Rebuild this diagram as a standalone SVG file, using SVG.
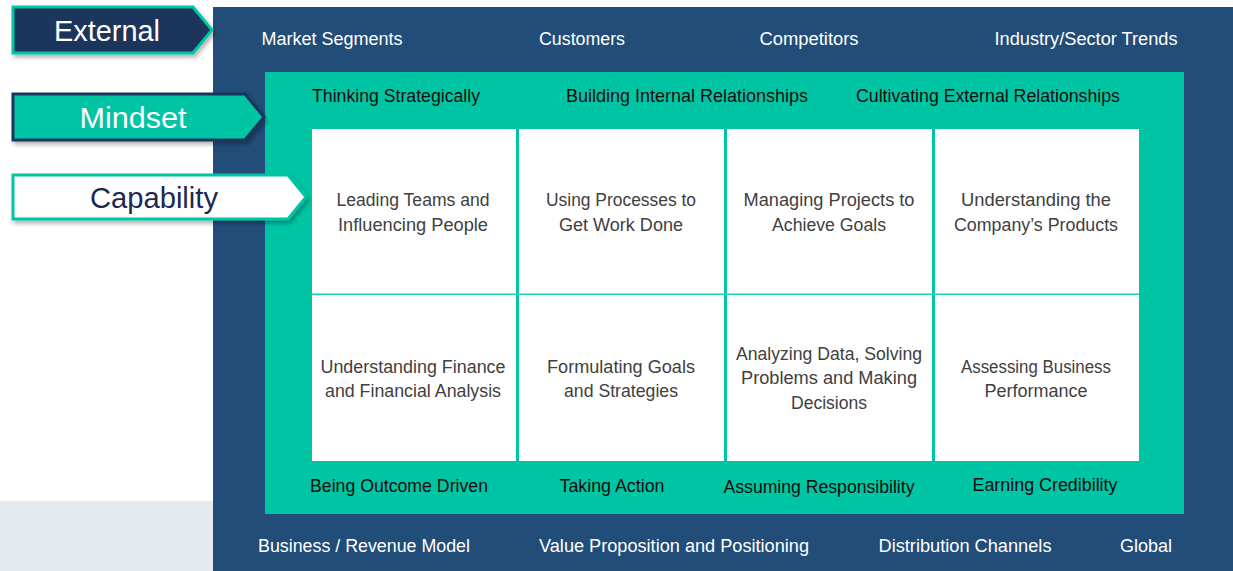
<svg xmlns="http://www.w3.org/2000/svg" width="1233" height="571" viewBox="0 0 1233 571">
<defs>
<filter id="sh" x="-10%" y="-20%" width="130%" height="160%">
<feDropShadow dx="2" dy="3" stdDeviation="2" flood-color="#000" flood-opacity="0.3"/>
</filter>
<style>
text{font-family:"Liberation Sans","Open Sans",sans-serif;text-anchor:middle}
.ext{fill:#ffffff;font-size:18px}
.mind{fill:#0d0d0d;font-size:17.5px}
.cell{fill:#404040;font-size:17.5px}
.lab{font-size:29px}
</style>
</defs>
<rect x="0" y="0" width="1233" height="571" fill="#ffffff"/>
<rect x="0" y="501" width="213" height="70" fill="#e4e8ef"/>
<g id="external-frame">
<rect x="213" y="7" width="1020" height="564" fill="#214d78"/>
<text class="ext" x="332" y="45" textLength="141" lengthAdjust="spacingAndGlyphs">Market Segments</text>
<text class="ext" x="582" y="45" textLength="86" lengthAdjust="spacingAndGlyphs">Customers</text>
<text class="ext" x="809" y="45" textLength="99" lengthAdjust="spacingAndGlyphs">Competitors</text>
<text class="ext" x="1086" y="45" textLength="183" lengthAdjust="spacingAndGlyphs">Industry/Sector Trends</text>
<text class="ext" x="364" y="552" textLength="212" lengthAdjust="spacingAndGlyphs">Business / Revenue Model</text>
<text class="ext" x="674" y="552" textLength="270" lengthAdjust="spacingAndGlyphs">Value Proposition and Positioning</text>
<text class="ext" x="965" y="552" textLength="173" lengthAdjust="spacingAndGlyphs">Distribution Channels</text>
<text class="ext" x="1146" y="552" textLength="52" lengthAdjust="spacingAndGlyphs">Global</text>
</g>
<g id="mindset-frame">
<rect x="265" y="72" width="919" height="442" fill="#00c5a4"/>
<text class="mind" x="396" y="102" textLength="168" lengthAdjust="spacingAndGlyphs">Thinking Strategically</text>
<text class="mind" x="687" y="102" textLength="242" lengthAdjust="spacingAndGlyphs">Building Internal Relationships</text>
<text class="mind" x="988" y="102" textLength="264" lengthAdjust="spacingAndGlyphs">Cultivating External Relationships</text>
<text class="mind" x="399" y="492" textLength="178" lengthAdjust="spacingAndGlyphs">Being Outcome Driven</text>
<text class="mind" x="612" y="492" textLength="105" lengthAdjust="spacingAndGlyphs">Taking Action</text>
<text class="mind" x="819" y="493" textLength="191" lengthAdjust="spacingAndGlyphs">Assuming Responsibility</text>
<text class="mind" x="1045" y="491" textLength="145" lengthAdjust="spacingAndGlyphs">Earning Credibility</text>
</g>
<g id="capability-grid">
<rect x="312" y="129" width="827" height="332" fill="#ffffff"/>
<g fill="#00c5a4">
<rect x="516" y="129" width="3" height="332"/>
<rect x="724" y="129" width="3" height="332"/>
<rect x="932" y="129" width="3" height="332"/>
</g>
<rect x="312" y="293.5" width="827" height="1.5" fill="#20d0b0"/>
</g>
<g id="cell-1"><text class="cell" x="413" y="206" textLength="153" lengthAdjust="spacingAndGlyphs">Leading Teams and</text><text class="cell" x="413" y="231" textLength="150" lengthAdjust="spacingAndGlyphs">Influencing People</text></g>
<g id="cell-2"><text class="cell" x="621" y="206" textLength="150" lengthAdjust="spacingAndGlyphs">Using Processes to</text><text class="cell" x="621" y="231" textLength="124" lengthAdjust="spacingAndGlyphs">Get Work Done</text></g>
<g id="cell-3"><text class="cell" x="829" y="206" textLength="171" lengthAdjust="spacingAndGlyphs">Managing Projects to</text><text class="cell" x="829" y="231" textLength="114" lengthAdjust="spacingAndGlyphs">Achieve Goals</text></g>
<g id="cell-4"><text class="cell" x="1036" y="206" textLength="150" lengthAdjust="spacingAndGlyphs">Understanding the</text><text class="cell" x="1036" y="231" textLength="164" lengthAdjust="spacingAndGlyphs">Company’s Products</text></g>
<g id="cell-5"><text class="cell" x="413" y="373" textLength="185" lengthAdjust="spacingAndGlyphs">Understanding Finance</text><text class="cell" x="413" y="397" textLength="176" lengthAdjust="spacingAndGlyphs">and Financial Analysis</text></g>
<g id="cell-6"><text class="cell" x="621" y="373" textLength="148" lengthAdjust="spacingAndGlyphs">Formulating Goals</text><text class="cell" x="621" y="397" textLength="114" lengthAdjust="spacingAndGlyphs">and Strategies</text></g>
<g id="cell-7"><text class="cell" x="829" y="360" textLength="186" lengthAdjust="spacingAndGlyphs">Analyzing Data, Solving</text><text class="cell" x="829" y="384" textLength="176" lengthAdjust="spacingAndGlyphs">Problems and Making</text><text class="cell" x="829" y="409" textLength="76" lengthAdjust="spacingAndGlyphs">Decisions</text></g>
<g id="cell-8"><text class="cell" x="1036" y="373" textLength="150" lengthAdjust="spacingAndGlyphs">Assessing Business</text><text class="cell" x="1036" y="397" textLength="103" lengthAdjust="spacingAndGlyphs">Performance</text></g>
<g id="label-external">
<polygon points="13,7 193,7 212,30 193,53 13,53" fill="#1a365d" stroke="#00c5a4" stroke-width="3" stroke-linejoin="miter" filter="url(#sh)"/>
<text class="lab" x="107" y="41" fill="#ffffff" textLength="106" lengthAdjust="spacingAndGlyphs">External</text>
</g>
<g id="label-mindset">
<polygon points="13,94 245,94 264,117 245,140 13,140" fill="#00c5a4" stroke="#1a365d" stroke-width="3" filter="url(#sh)"/>
<text class="lab" x="133" y="128" fill="#ffffff" textLength="107" lengthAdjust="spacingAndGlyphs">Mindset</text>
</g>
<g id="label-capability">
<polygon points="13,175 288,175 306,197 288,219 13,219" fill="#ffffff" stroke="#00c5a4" stroke-width="3" filter="url(#sh)"/>
<text class="lab" x="154" y="208" fill="#1b2a50" textLength="128" lengthAdjust="spacingAndGlyphs">Capability</text>
</g>
</svg>
